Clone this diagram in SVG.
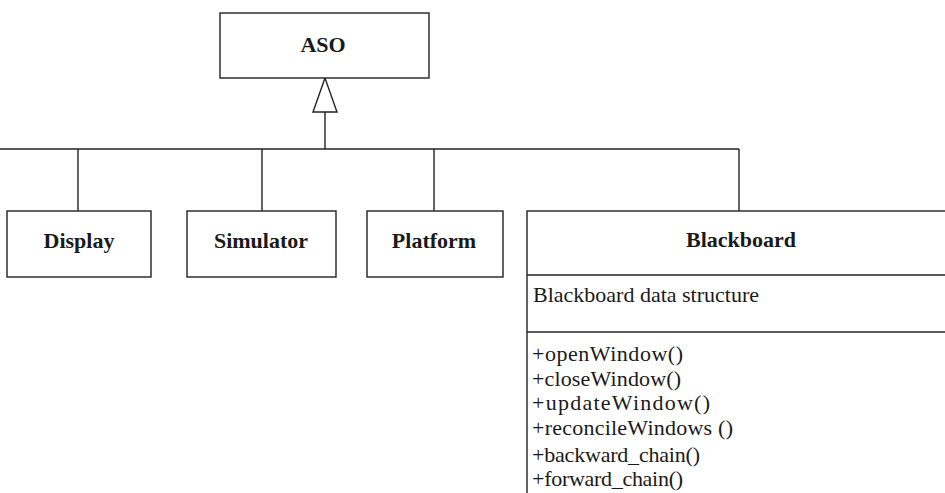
<svg xmlns="http://www.w3.org/2000/svg" width="945" height="493" viewBox="0 0 945 493">
<style>
.box{fill:#fff;stroke:#222;stroke-width:1.4}
.ln{fill:none;stroke:#222;stroke-width:1.4}
.t{font-family:"Liberation Serif",serif;font-size:22px;font-weight:bold;fill:#1a1a1a;text-anchor:middle}
.m{font-family:"Liberation Serif",serif;font-size:22px;fill:#1a1a1a}
</style>
<rect width="945" height="493" fill="#fff"/>
<g id="connectors">
<line class="ln" x1="325" y1="112" x2="325" y2="149"/>
<line class="ln" x1="0" y1="149" x2="739" y2="149"/>
<line class="ln" x1="78" y1="149" x2="78" y2="211"/>
<line class="ln" x1="262" y1="149" x2="262" y2="211"/>
<line class="ln" x1="434" y1="149" x2="434" y2="211"/>
<line class="ln" x1="739" y1="149" x2="739" y2="211"/>
<polygon class="box" points="325,78 313,112 337,112"/>
</g>
<g id="aso">
<rect class="box" x="220" y="13" width="209" height="65"/>
<text class="t" x="323" y="52">ASO</text>
</g>
<g id="display">
<rect class="box" x="7" y="211" width="144" height="66"/>
<text class="t" x="79" y="248">Display</text>
</g>
<g id="simulator">
<rect class="box" x="187" y="211" width="149" height="66"/>
<text class="t" x="261" y="248">Simulator</text>
</g>
<g id="platform">
<rect class="box" x="367" y="211" width="136" height="66"/>
<text class="t" x="434" y="248">Platform</text>
</g>
<g id="blackboard">
<rect class="box" x="527" y="211" width="430" height="300"/>
<line class="ln" x1="527" y1="275" x2="945" y2="275"/>
<line class="ln" x1="527" y1="332" x2="945" y2="332"/>
<text class="t" x="741" y="247">Blackboard</text>
<text class="m" x="533" y="302">Blackboard data structure</text>
<text class="m" x="532" y="361" textLength="151" lengthAdjust="spacing">+openWindow()</text>
<text class="m" x="532" y="386" textLength="149" lengthAdjust="spacing">+closeWindow()</text>
<text class="m" x="532" y="410" textLength="178" lengthAdjust="spacing">+updateWindow()</text>
<text class="m" x="532" y="435" textLength="201" lengthAdjust="spacing">+reconcileWindows ()</text>
<text class="m" x="532" y="462" textLength="168" lengthAdjust="spacing">+backward_chain()</text>
<text class="m" x="532" y="486" textLength="151" lengthAdjust="spacing">+forward_chain()</text>
</g>
</svg>
